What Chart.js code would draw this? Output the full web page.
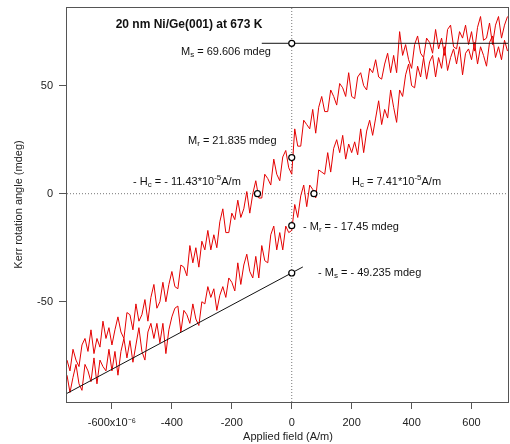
<!DOCTYPE html>
<html>
<head>
<meta charset="utf-8">
<script src="https://cdn.jsdelivr.net/npm/chart.js@4.4.0/dist/chart.umd.min.js"></script>
<style>
  body { margin: 0; background: #fff; }
</style>
</head>
<body>
<canvas id="kerr" width="510" height="444"></canvas>
<script>
// applied field, units of 10^-6 A/m
const field = [-750,-740,-730,-720,-710,-700,-690,-680,-670,-660,-650,-640,-630,-620,-610,-600,-590,-580,-570,-560,
  -550,-540,-530,-520,-510,-500,-490,-480,-470,-460,-450,-440,-430,-420,-410,-400,-390,-380,-370,-360,
  -350,-340,-330,-320,-310,-300,-290,-280,-270,-260,-250,-240,-230,-220,-210,-200,-190,-180,-170,-160,
  -150,-140,-130,-120,-110,-100,-90,-80,-70,-60,-50,-40,-30,-20,-10,0,10,20,30,40,
  50,60,70,80,90,100,110,120,130,140,150,160,170,180,190,200,210,220,230,240,
  250,260,270,280,290,300,310,320,330,340,350,360,370,380,390,400,410,420,430,440,
  450,460,470,480,490,500,510,520,530,540,550,560,570,580,590,600,610,620,630,640,
  650,660,670,680,690,700,710,720];
// Kerr rotation (mdeg), branch coming down from +field (upper)
const kerrDown = [-77,-82,-72,-77,-80,-70,-67,-73,-63,-74,-67,-71,-59,-67,-62,-70,-63,-57,-64,-67,
  -55,-56,-63,-51,-59,-56,-49,-59,-48,-42,-53,-50,-41,-50,-42,-36,-43,-44,-33,-34,
  -38,-24,-32,-25,-34,-22,-26,-17,-26,-19,-25,-13,-7,-18,-18,-9,-12,-3,-11,-7,
  1,-9,0,6,-2,-2,9,7,4,16,9,6,17,20,12,9,30,22,22,34,
  32,30,39,28,40,45,38,38,48,45,41,51,49,45,56,45,44,54,56,50,
  48,58,56,62,54,53,60,65,56,64,56,75,64,69,62,58,69,73,65,63,
  72,70,65,76,67,72,64,76,78,68,67,75,72,78,69,75,66,77,82,71,
  72,79,69,78,82,72,78,82];
// branch going up from -field (lower)
const kerrUp = [-84,-92,-85,-79,-88,-91,-79,-82,-87,-76,-88,-77,-80,-82,-72,-82,-73,-84,-73,-67,
  -76,-68,-78,-70,-62,-73,-77,-64,-60,-67,-60,-69,-60,-74,-63,-57,-53,-52,-64,-54,
  -56,-60,-51,-58,-61,-50,-51,-43,-48,-44,-54,-47,-43,-48,-39,-41,-45,-32,-42,-33,
  -28,-36,-39,-29,-39,-24,-31,-32,-19,-15,-26,-18,-26,-15,-18,-17,-5,-11,-1,4,
  -6,4,2,-2,11,10,9,19,10,21,25,19,27,16,23,19,24,18,30,19,
  29,34,27,35,43,32,39,35,48,40,33,48,45,55,60,50,49,59,54,63,
  53,61,64,54,63,58,68,57,63,67,60,68,55,65,67,62,70,60,68,64,
  59,70,73,63,68,62,71,66];

const xTicks = [-600, -400, -200, 0, 200, 400, 600];
const yTicks = [-50, 0, 50];
const xRange = [-750, 725];
const yRange = [-96.4, 86.4];

// open circles: Ms, Mr, -Hc, Hc, -Mr, -Ms
const markField = [0, 0, -114.3, 74.1, 0, 0];
const markKerr = [69.606, 16.7, 0, 0, -14.8, -36.7];
// saturation guide lines
const msLineField = [-100, 725];
const msLineKerr = [69.606, 69.606];
const fitField = [-750, 37];
const fitKerr = [-92.4, -33.9];

const FONT = '"Liberation Sans", Arial, sans-serif';
const pts = (xs, ys) => xs.map((x, i) => ({ x: x, y: ys[i] }));

function richText(ctx, parts, x, y) {
  for (const p of parts) {
    const small = p.sub || p.sup;
    ctx.font = (small ? 8 : 11) + 'px ' + FONT;
    const dy = p.sub ? 3 : p.sup ? -4 : 0;
    ctx.fillText(p.t, x, y + dy);
    x += ctx.measureText(p.t).width;
  }
}

const frameAndText = {
  id: 'frameAndText',
  afterDraw(chart) {
    const { ctx, chartArea: a } = chart;
    ctx.save();
    ctx.strokeStyle = '#555';
    ctx.lineWidth = 1;
    ctx.strokeRect(Math.round(a.left) - 0.5, Math.round(a.top) + 0.5,
      Math.round(a.right - a.left), Math.round(a.bottom - a.top));

    ctx.fillStyle = '#111';
    ctx.textBaseline = 'middle';
    ctx.textAlign = 'center';
    ctx.font = 'bold 12px ' + FONT;
    ctx.fillText('20 nm Ni/Ge(001) at 673 K', 189, 25);

    ctx.textAlign = 'left';
    richText(ctx, [{ t: 'M' }, { t: 's', sub: true }, { t: ' = 69.606 mdeg' }], 181, 52);
    richText(ctx, [{ t: 'M' }, { t: 'r', sub: true }, { t: ' = 21.835 mdeg' }], 188, 141);
    richText(ctx, [{ t: '- H' }, { t: 'c', sub: true }, { t: ' = - 11.43*10' }, { t: '-5', sup: true }, { t: 'A/m' }], 133, 182);
    richText(ctx, [{ t: 'H' }, { t: 'c', sub: true }, { t: ' = 7.41*10' }, { t: '-5', sup: true }, { t: 'A/m' }], 352, 182);
    richText(ctx, [{ t: '- M' }, { t: 'r', sub: true }, { t: ' = - 17.45 mdeg' }], 303, 227);
    richText(ctx, [{ t: '- M' }, { t: 's', sub: true }, { t: ' = - 49.235 mdeg' }], 318, 273);
    ctx.restore();
  }
};

new Chart(document.getElementById('kerr'), {
  type: 'line',
  data: {
    datasets: [
      {
        data: pts(markField, markKerr), showLine: false,
        pointRadius: 3, pointBorderWidth: 1.2,
        pointBorderColor: '#000', pointBackgroundColor: '#fff'
      },
      { data: pts(msLineField, msLineKerr), borderColor: '#111', borderWidth: 1, pointRadius: 0 },
      { data: pts(fitField, fitKerr), borderColor: '#111', borderWidth: 1, pointRadius: 0 },
      { data: pts(field, kerrDown), borderColor: 'rgb(228,0,0)', borderWidth: 1, pointRadius: 0 },
      { data: pts(field, kerrUp), borderColor: 'rgb(228,0,0)', borderWidth: 1, pointRadius: 0 },
      { data: pts(xRange, [0, 0]), borderColor: '#777', borderWidth: 1, borderDash: [1, 2], pointRadius: 0 },
      { data: pts([0, 0], yRange), borderColor: '#777', borderWidth: 1, borderDash: [1, 2], pointRadius: 0 }
    ]
  },
  options: {
    responsive: false,
    animation: false,
    devicePixelRatio: 1,
    // no extra room for the point markers, keep the frame at the edge
    layout: { autoPadding: false, padding: { top: 7, right: 1, left: 0, bottom: 0 } },
    plugins: { legend: { display: false }, tooltip: { enabled: false } },
    scales: {
      x: {
        type: 'linear', min: xRange[0], max: xRange[1],
        afterBuildTicks: s => { s.ticks = xTicks.map(v => ({ value: v })); },
        afterFit: s => { s.height = 42; s.paddingLeft = 0; s.paddingRight = 0; },
        grid: { drawOnChartArea: false, drawTicks: true, tickLength: 7, color: '#555' },
        border: { display: false },
        ticks: {
          color: '#222', font: { size: 11, family: FONT }, padding: 7,
          maxRotation: 0, autoSkip: false,
          callback: v => (v === -600 ? '-600x10⁻⁶' : String(v))
        },
        title: { display: true, text: 'Applied field (A/m)', color: '#222', font: { size: 11, family: FONT }, padding: { top: 0, bottom: 0 } }
      },
      y: {
        type: 'linear', min: yRange[0], max: yRange[1],
        afterBuildTicks: s => { s.ticks = yTicks.map(v => ({ value: v })); },
        afterFit: s => { s.width = 67; s.paddingTop = 0; s.paddingBottom = 0; },
        grid: { drawOnChartArea: false, drawTicks: true, tickLength: 8, color: '#555' },
        border: { display: false },
        ticks: { color: '#222', font: { size: 11, family: FONT }, padding: 6 },
        title: { display: true, text: 'Kerr rotation angle (mdeg)', color: '#222', font: { size: 11, family: FONT }, padding: { top: 12, bottom: 0 } }
      }
    }
  },
  plugins: [frameAndText]
});
</script>
</body>
</html>
